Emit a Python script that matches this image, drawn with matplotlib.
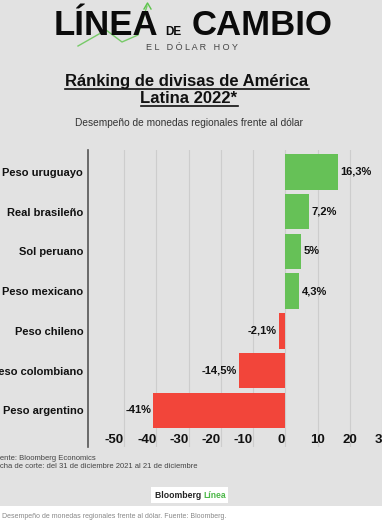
import matplotlib

matplotlib.use("Agg")

import matplotlib.pyplot as plt
from matplotlib.lines import Line2D
from matplotlib.patches import Rectangle

W, H = 382, 527

CATEGORIES = [
    "Peso uruguayo",
    "Real brasileño",
    "Sol peruano",
    "Peso mexicano",
    "Peso chileno",
    "Peso colombiano",
    "Peso argentino",
]
VALUES = [16.3, 7.2, 5.0, 4.3, -2.1, -14.5, -41.0]
VALUE_LABELS = ["16,3%", "7,2%", "5%", "4,3%", "-2,1%", "-14,5%", "-41%"]
XTICKS = [-50, -40, -30, -20, -10, 0, 10, 20, 30]

GREEN = "#66c157"
RED = "#f2453a"
BG = "#e2e2e2"
FONT = "Liberation Sans"


def fx(px):
    return px / W


def fy(py):
    return 1 - py / H


def underline(fig, txt, y_px, lw=1.2):
    renderer = fig.canvas.get_renderer()
    bb = txt.get_window_extent(renderer=renderer)
    fig.add_artist(Line2D([bb.x0 / W, bb.x1 / W], [fy(y_px), fy(y_px)],
                          transform=fig.transFigure, color="#111", lw=lw))


def main():
    plt.rcParams["font.family"] = [FONT, "DejaVu Sans"]
    fig = plt.figure(figsize=(W / 100, H / 100), dpi=100, facecolor="white")

    # gray card
    fig.add_artist(Rectangle((0, fy(506)), 1, 1 - fy(506), transform=fig.transFigure,
                             facecolor=BG, edgecolor="none", zorder=-10))

    # logo: green arrow line
    arrow_x = [78, 106, 122, 138, 147]
    arrow_y = [46, 30, 42, 35, 6]
    fig.add_artist(Line2D([fx(v) for v in arrow_x], [fy(v) for v in arrow_y],
                          transform=fig.transFigure, color="#5cc44a", lw=1.0, alpha=0.8, zorder=1))
    fig.add_artist(Line2D([fx(144), fx(147.5), fx(151)], [fy(9), fy(3), fy(9)],
                          transform=fig.transFigure, color="#5cc44a", lw=1.0, zorder=1))

    fig.text(fx(54), fy(35), "LÍNEA", fontsize=25, fontweight="bold", color="#0b0b0b",
             ha="left", va="baseline", zorder=2)
    fig.text(fx(165), fy(35), "DE", fontsize=8.5, fontweight="bold", color="#0b0b0b",
             ha="left", va="baseline")
    fig.text(fx(192), fy(35), "CAMBIO", fontsize=25, fontweight="bold", color="#0b0b0b",
             ha="left", va="baseline")
    fig.text(fx(192), fy(48), "E L   D Ó L A R   H O Y", fontsize=6.5, color="#444",
             ha="center", va="center")

    # title
    t1 = fig.text(fx(187), fy(86), "Ránking de divisas de América", fontsize=12,
                  fontweight="bold", color="#111", ha="center", va="baseline")
    t2 = fig.text(fx(189), fy(103), "Latina 2022*", fontsize=12,
                  fontweight="bold", color="#111", ha="center", va="baseline")
    fig.text(fx(189), fy(123), "Desempeño de monedas regionales frente al dólar",
             fontsize=7.3, color="#333", ha="center", va="center")
    fig.canvas.draw()
    underline(fig, t1, 89)
    underline(fig, t2, 106)

    # chart
    ax = fig.add_axes([fx(88), fy(447), 1 - fx(88), fy(150) - fy(447)])
    ax.set_facecolor("none")
    y = list(range(len(CATEGORIES)))
    colors = [GREEN if v >= 0 else RED for v in VALUES]
    ax.barh(y, VALUES, height=0.89, color=colors, zorder=3)

    ax.set_xlim(-61.2, 29.2)
    ax.set_ylim(6.92, -0.55)

    for yi, v, lab in zip(y, VALUES, VALUE_LABELS):
        if v >= 0:
            ax.text(v + 0.8, yi, lab, ha="left", va="center", fontsize=8,
                    fontweight="bold", color="#111", zorder=4)
        else:
            ax.text(v - 0.6, yi, lab, ha="right", va="center", fontsize=8,
                    fontweight="bold", color="#111", zorder=4)

    ax.set_yticks(y)
    ax.set_yticklabels(CATEGORIES, fontsize=8, fontweight="bold", color="#111")
    ax.tick_params(axis="y", length=0, pad=3.5)

    ax.set_xticks(XTICKS)
    ax.set_xticklabels([str(t) for t in XTICKS], fontsize=9.5, fontweight="bold", color="#111")
    ax.tick_params(axis="x", length=0, pad=-9.5)
    for t, lab in zip(XTICKS, ax.get_xticklabels()):
        lab.set_ha("right" if t <= 0 else "center")
        lab.set_zorder(5)

    ax.grid(axis="x", color="#cdcdcd", lw=0.8, zorder=0)
    ax.grid(axis="y", visible=False)
    for side in ["top", "right", "bottom"]:
        ax.spines[side].set_visible(False)
    ax.spines["left"].set_color("#555")
    ax.spines["left"].set_linewidth(1.2)

    # footnotes
    fig.text(fx(-9), fy(458), "Fuente: Bloomberg Economics", fontsize=5.5, color="#444",
             ha="left", va="center")
    fig.text(fx(-9), fy(467), "Fecha de corte: del 31 de diciembre 2021 al 21 de diciembre",
             fontsize=5.5, color="#444", ha="left", va="center")

    # Bloomberg Línea badge
    fig.add_artist(Rectangle((fx(151), fy(503)), fx(228) - fx(151), fy(487) - fy(503),
                             transform=fig.transFigure, facecolor="white", edgecolor="none"))
    b = fig.text(fx(155), fy(495), "Bloomberg ", fontsize=6.2, fontweight="bold", color="#222",
                 ha="left", va="center")
    fig.canvas.draw()
    bb = b.get_window_extent(renderer=fig.canvas.get_renderer())
    fig.text(bb.x1 / W, fy(495), "Línea", fontsize=6.2, fontweight="bold", color="#4cb848",
             ha="left", va="center")

    fig.text(fx(2), fy(517), "Desempeño de monedas regionales frente al dólar. Fuente: Bloomberg.",
             fontsize=5, color="#888", ha="left", va="center")

    fig.savefig("out.png", dpi=100, facecolor="white")


if __name__ == "__main__":
    main()
